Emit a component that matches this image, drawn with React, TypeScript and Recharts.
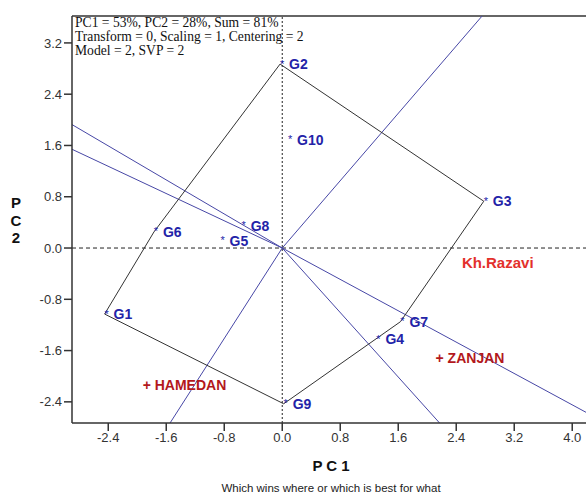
import React from "react";
import {
  ReferenceLine,
  Scatter,
  ScatterChart,
  XAxis,
  YAxis,
} from "recharts";

// genotype scores (PC1, PC2)
const genotypes = ["G1", "G2", "G3", "G4", "G5", "G6", "G7", "G8", "G9", "G10"];
const genoPC1 = [-2.45, -0.03, 2.78, 1.3, -0.85, -1.77, 1.63, -0.56, 0.02, 0.08];
const genoPC2 = [-1.03, 2.87, 0.73, -1.42, 0.11, 0.25, -1.15, 0.35, -2.43, 1.69];

// environment scores
const environments = ["HAMEDAN", "ZANJAN", "Kh.Razavi"];
const envPC1 = [-1.87, 2.17, 2.34];
const envPC2 = [-2.13, -1.71, -0.23];
const envMarker = [true, true, false];

// convex hull vertices, in drawing order
const hullOrder = ["G2", "G3", "G7", "G9", "G1", "G6", "G2"];

const xTicks = [-2.4, -1.6, -0.8, 0, 0.8, 1.6, 2.4, 3.2, 4.0];
const yTicks = [-2.4, -1.6, -0.8, 0, 0.8, 1.6, 2.4, 3.2];
const xDomain: [number, number] = [-2.9, 4.19];
const yDomain: [number, number] = [-2.73, 3.62];

const genoData = genotypes.map((name, i) => ({ name, x: genoPC1[i], y: genoPC2[i] }));
const envData = environments.map((name, i) => ({
  name,
  x: envPC1[i],
  y: envPC2[i],
  marker: envMarker[i],
}));
const hullData = hullOrder.map((n) => genoData.find((g) => g.name === n)!);

// rays from the origin, perpendicular to each hull side, out to the frame
const rays = hullData.slice(0, -1).map((a, i) => {
  const b = hullData[i + 1];
  let nx = b.y - a.y;
  let ny = -(b.x - a.x);
  if (nx * a.x + ny * a.y < 0) {
    nx = -nx;
    ny = -ny;
  }
  const tx = nx > 0 ? xDomain[1] / nx : nx < 0 ? xDomain[0] / nx : Infinity;
  const ty = ny > 0 ? yDomain[1] / ny : ny < 0 ? yDomain[0] / ny : Infinity;
  const t = Math.min(tx, ty);
  return { x: nx * t, y: ny * t };
});

const sans = "'Liberation Sans', Arial, sans-serif";
const blue = "#2323a8";
const darkRed = "#b3181c";

function GenoShape(props: any) {
  const { cx, cy, payload } = props;
  return (
    <g>
      <text x={cx + 2} y={cy + 3.5} textAnchor="middle" fontSize={11} fill={blue} fontFamily={sans}>
        *
      </text>
      <text x={cx + 9} y={cy} dy="0.36em" fontSize={14} fontWeight="bold" fill={blue} fontFamily={sans}>
        {payload.name}
      </text>
    </g>
  );
}

function EnvShape(props: any) {
  const { cx, cy, payload } = props;
  if (!payload.marker) {
    return (
      <text x={cx + 10} y={cy} dy="0.36em" fontSize={15} fontWeight="bold" fill="#e3302c" fontFamily={sans}>
        {payload.name}
      </text>
    );
  }
  return (
    <text x={cx - 4} y={cy} dy="0.36em" fontSize={14} fontWeight="bold" fill={darkRed} fontFamily={sans}>
      {"+ " + payload.name}
    </text>
  );
}

export default function App() {
  return (
    <div style={{ position: "absolute", left: 0, top: 0, width: 586, height: 494, background: "#fff" }}>
      <ScatterChart width={586} height={494} margin={{ top: 16, right: 0, left: 0, bottom: 41 }}>
        <XAxis
          type="number"
          dataKey="x"
          domain={xDomain}
          ticks={xTicks}
          allowDataOverflow
          height={30}
          tickSize={8}
          tickFormatter={(v: number) => v.toFixed(1)}
          tick={{ fill: "#333", fontSize: 13, fontFamily: sans }}
          stroke="#333"
          strokeWidth={1.5}
        />
        <YAxis
          type="number"
          dataKey="y"
          domain={yDomain}
          ticks={yTicks}
          allowDataOverflow
          width={72}
          tickSize={8}
          tickFormatter={(v: number) => v.toFixed(1)}
          tick={{ fill: "#333", fontSize: 13, fontFamily: sans }}
          stroke="#333"
          strokeWidth={1.5}
        />
        <ReferenceLine y={yDomain[1]} stroke="#333" strokeWidth={1.5} />
        <ReferenceLine x={0} stroke="#222" strokeDasharray="2 2" />
        <ReferenceLine y={0} stroke="#222" strokeDasharray="4 3" />
        {rays.map((r, i) => (
          <ReferenceLine
            key={i}
            segment={[
              { x: 0, y: 0 },
              { x: r.x, y: r.y },
            ]}
            stroke="#4747a6"
            strokeWidth={1}
            ifOverflow="visible"
          />
        ))}
        <Scatter
          data={hullData}
          line={{ stroke: "#333", strokeWidth: 1 }}
          lineType="joint"
          shape={() => <g />}
          isAnimationActive={false}
        />
        <Scatter data={genoData} shape={GenoShape} isAnimationActive={false} />
        <Scatter data={envData} shape={EnvShape} isAnimationActive={false} />
      </ScatterChart>

      <div
        style={{
          position: "absolute",
          left: 75,
          top: 16,
          fontFamily: "'Liberation Serif', 'Times New Roman', serif",
          fontSize: 13.6,
          lineHeight: "14px",
          color: "#111",
          whiteSpace: "nowrap",
        }}
      >
        <div>PC1 = 53%, PC2 = 28%, Sum = 81%</div>
        <div>Transform = 0, Scaling = 1, Centering = 2</div>
        <div>Model = 2, SVP = 2</div>
      </div>

      <div
        style={{
          position: "absolute",
          left: 6,
          top: 194,
          width: 20,
          textAlign: "center",
          fontFamily: sans,
          fontWeight: "bold",
          fontSize: 15,
          lineHeight: "17.5px",
          color: "#111",
        }}
      >
        <div>P</div>
        <div>C</div>
        <div>2</div>
      </div>

      <div
        style={{
          position: "absolute",
          left: 231,
          width: 200,
          top: 457,
          textAlign: "center",
          fontFamily: sans,
          fontWeight: "bold",
          fontSize: 15,
          lineHeight: "18px",
          color: "#111",
        }}
      >
        P C 1
      </div>
      <div
        style={{
          position: "absolute",
          left: 131,
          width: 400,
          top: 481,
          textAlign: "center",
          fontFamily: sans,
          fontSize: 11.5,
          lineHeight: "14px",
          color: "#222",
        }}
      >
        Which wins where or which is best for what
      </div>
    </div>
  );
}
